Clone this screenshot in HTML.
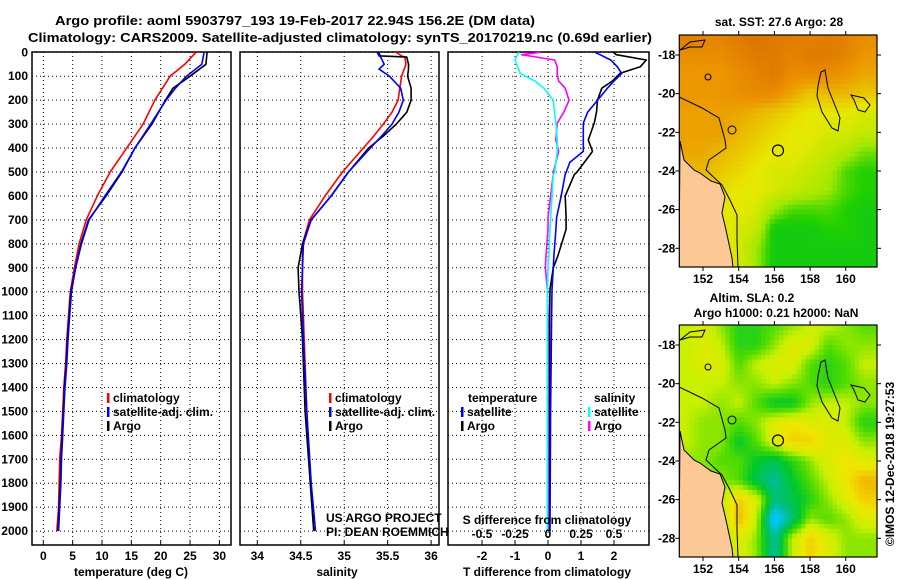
<!DOCTYPE html>
<html><head><meta charset="utf-8"><style>
html,body{margin:0;padding:0;background:#fff;}
svg{display:block;font-family:"Liberation Sans",sans-serif;}
.t{font-weight:bold;font-size:12px;}
</style></head><body>
<svg id="c" width="900" height="580" viewBox="0 0 900 580" xmlns="http://www.w3.org/2000/svg">
<text x="295" y="25" text-anchor="middle" class="t" style="font-size:13px" textLength="480" lengthAdjust="spacingAndGlyphs">Argo profile: aoml 5903797_193 19-Feb-2017 22.94S 156.2E (DM data)</text>
<text x="340" y="42" text-anchor="middle" class="t" style="font-size:13px" textLength="624" lengthAdjust="spacingAndGlyphs">Climatology: CARS2009. Satellite-adjusted climatology: synTS_20170219.nc (0.69d earlier)</text>
<g id="g"></g>
</svg>
<script>
// ---- profile data (depth in dbar) ----
const depths = [0,50,100,150,200,300,400,500,600,700,800,900,1000,1100,1200,1300,1400,1500,1600,1700,1800,1900,2000];
const tempArgo = [27.9,27.7,25.0,22.1,20.8,18.5,15.6,13.4,10.7,7.7,6.4,5.5,4.7,4.4,4.1,3.9,3.6,3.4,3.2,3.0,2.9,2.7,2.5];
const tempSat  = [27.4,27.0,24.4,22.5,20.9,18.3,15.6,13.3,10.5,7.8,6.5,5.5,4.8,4.5,4.2,4.0,3.7,3.5,3.3,3.1,3.0,2.8,2.6];
const tempClim = [26.0,24.1,21.6,20.3,19.0,17.0,14.2,11.4,9.2,7.3,6.1,5.3,4.6,4.3,4.0,3.8,3.5,3.3,3.1,2.8,2.7,2.6,2.3];
const salDepths = [0,15,20,50,70,100,150,200,250,300,350,400,500,600,700,800,900,1000,1100,1200,1500,1800,2000];
const salArgo = [35.39,35.42,35.72,35.74,35.74,35.73,35.77,35.77,35.72,35.60,35.45,35.28,35.05,34.85,34.62,34.52,34.47,34.48,34.50,34.52,34.55,34.61,34.65];
const salSat  = [35.38,35.40,35.42,35.46,35.40,35.52,35.65,35.68,35.63,35.55,35.43,35.30,35.05,34.85,34.62,34.53,34.52,34.51,34.52,34.53,34.57,34.62,34.67];
const salClim = [35.60,35.66,35.70,35.71,35.69,35.66,35.64,35.62,35.55,35.45,35.34,35.22,34.98,34.78,34.60,34.52,34.52,34.52,34.53,34.54,34.57,34.61,34.65];
const diffDepths = [0,10,32,60,88,120,150,200,250,296,366,414,460,502,510,600,690,739,850,900,990,1110,1500,2000];
const dTArgo = [1.98,2.07,2.98,2.80,2.18,1.95,1.63,1.50,1.47,1.40,1.22,1.35,1.10,0.87,0.80,0.52,0.55,0.55,0.30,0.16,0.06,0.05,0.05,0.05];
const dTSat  = [1.42,1.58,1.90,2.10,2.23,2.00,1.80,1.50,1.20,1.07,1.07,1.07,0.66,0.55,0.52,0.40,0.26,0.24,0.18,0.16,0.12,0.11,0.08,0.06];
const dSSat  = [-0.22,-0.23,-0.25,-0.23,-0.21,-0.10,-0.03,0.04,0.05,0.06,0.07,0.07,0.06,0.05,0.04,0.03,0.02,0.015,0.005,0.0,-0.005,-0.005,-0.005,-0.005];
const dSArgo = [-0.06,-0.20,0.05,0.07,0.07,0.08,0.13,0.16,0.12,0.07,0.06,0.08,0.06,0.04,0.04,0.02,0.0,0.0,-0.015,-0.02,-0.005,0.0,0.0,0.0];
// ---- ticks ----
const depthTicks = [0,100,200,300,400,500,600,700,800,900,1000,1100,1200,1300,1400,1500,1600,1700,1800,1900,2000];
const tempTicks = [0,5,10,15,20,25,30];
const salTicks = [34,34.5,35,35.5,36];
const salTickLabels = ["34","34.5","35","35.5","36"];
const dTTicks = [-2,-1,0,1,2];
const dSTicks = [-0.5,-0.25,0,0.25,0.5];
const dSTickLabels = ["-0.5","-0.25","0","0.25","0.5"];
const latTicks = [-18,-20,-22,-24,-26,-28];
const lonTicks = [152,154,156,158,160];
// ---- map grids (rows lat -17..-28, cols lon 151..161) ----
const sstGrid = [
[0.10,0.15,0.15,0.10,0.05,0.10,0.10,0.15,0.10,0.15,0.20],
[0.20,0.20,0.20,0.15,0.10,0.10,0.15,0.10,0.10,0.15,0.25],
[0.25,0.25,0.25,0.20,0.15,0.10,0.20,0.20,0.20,0.25,0.30],
[0.25,0.25,0.25,0.22,0.18,0.20,0.30,0.40,0.35,0.35,0.40],
[0.28,0.28,0.28,0.30,0.35,0.40,0.45,0.50,0.50,0.50,0.55],
[0.28,0.28,0.28,0.35,0.40,0.45,0.50,0.50,0.55,0.55,0.60],
[0.30,0.30,0.35,0.40,0.45,0.50,0.50,0.55,0.60,0.65,0.75],
[0.35,0.35,0.40,0.45,0.50,0.55,0.55,0.60,0.65,0.80,0.85],
[0.40,0.40,0.45,0.50,0.50,0.55,0.60,0.65,0.70,0.80,0.85],
[0.45,0.45,0.50,0.50,0.55,0.70,0.80,0.80,0.80,0.85,0.90],
[0.50,0.50,0.50,0.55,0.60,0.90,0.90,0.90,0.85,0.85,0.90],
[0.50,0.50,0.50,0.55,0.70,0.90,0.90,0.90,0.90,0.90,0.90]];
const slaGrid = [
[0.2,0.3,0.1,-0.1,-0.1,0,0.1,0.2,0.2,0.1,0],
[0.2,0.3,0.2,-0.1,-0.1,0.1,0.3,0.3,0,0.1,0.1],
[0.2,0.3,0.3,0,0.2,0.3,0.3,0,-0.1,0,0.2],
[0.2,0.2,0.2,0.1,0.1,0.2,0.1,0,-0.1,0,0.1],
[0.2,0.2,0.1,0.2,0,-0.2,-0.2,0.1,0.2,0.2,0.1],
[0.2,0.1,0.1,0,0.1,0.3,0.4,0.3,0.3,0.2,-0.1],
[0.2,0.1,0.1,-0.2,0,0.3,0.5,0.5,0.3,0.3,0.1],
[0.1,0.1,0,0,-0.2,-0.3,-0.1,0.1,0.3,0.4,0.3],
[0.1,0.1,0.1,0,-0.3,-0.5,-0.2,0,0.2,0.4,0.6],
[0.1,0.1,0.2,0.5,0.3,-0.4,-0.3,-0.1,0.1,0.3,0.5],
[0.1,0.1,0.1,0.6,0.2,-0.8,-0.4,0.1,0,0.1,0.3],
[0.1,0.1,0.1,0.3,0.1,-0.5,0.2,0.5,0.3,0.1,0.1]];
const argoLon = 156.2, argoLat = -22.94;

const NS="http://www.w3.org/2000/svg";
const G=document.getElementById('g');
function mk(tag,attrs,parent){const e=document.createElementNS(NS,tag);for(const k in attrs)e.setAttribute(k,attrs[k]);(parent||G).appendChild(e);return e;}
function txt(x,y,s,anchor,cls,parent){const e=mk('text',{x:x,y:y,'text-anchor':anchor||'start','class':cls||'t'},parent);e.textContent=s;return e;}

const yD = p => 52.3 + 0.2394*p;
const xT = t => 43.3 + 5.87*t;
const xS = s => 257.3 + 86.9*(s-34);
const xdT = d => 548 + 33*d;
const xdS = d => 548 + 132*d;
const PT=[32,231], PS=[240,439], PD=[448,649], PY=[52,545];

function panel(x0,x1,name,vgrid){
  const g=mk('g',{});
  
  
  depthTicks.forEach(p=>{const l=mk('line',{x1:x0,x2:x1,y1:yD(p),y2:yD(p),stroke:'#000','stroke-width':1,'stroke-dasharray':'1,3'},g);
    
    });
  vgrid.forEach(x=>{const l=mk('line',{x1:x,x2:x,y1:PY[0],y2:PY[1],stroke:'#000','stroke-width':1,'stroke-dasharray':'1,3'},g);
    
    
    mk('line',{x1:x,x2:x,y1:PY[1],y2:PY[1]-4,stroke:'#000'},g);});
  const r=mk('rect',{x:x0,y:PY[0],width:x1-x0,height:PY[1]-PY[0],fill:'none',stroke:'#000','stroke-width':1.5},g);
  
  
  return g;
}
const g1=panel(PT[0],PT[1],'temperature-panel',tempTicks.map(xT));
const g2=panel(PS[0],PS[1],'salinity-panel',salTicks.map(xS));
const g3=panel(PD[0],PD[1],'difference-panel',dTTicks.map(xdT));

function line(xs,ps,fx,col,name,parent,w){
  const pts=xs.map((v,i)=>fx(v).toFixed(1)+','+yD(ps[i]).toFixed(1)).join(' ');
  const l=mk('polyline',{points:pts,fill:'none',stroke:col,'stroke-width':w||1.6,'stroke-linejoin':'round'},parent);
  
  
}
line(tempClim,depths,xT,'#f00','temp-climatology-line',g1);
line(tempArgo,depths,xT,'#000','temp-argo-line',g1);
line(tempSat,depths,xT,'#00f','temp-satellite-line',g1);
line(salClim,salDepths,xS,'#f00','sal-climatology-line',g2);
line(salArgo,salDepths,xS,'#000','sal-argo-line',g2);
line(salSat,salDepths,xS,'#00f','sal-satellite-line',g2);
line(dSArgo,diffDepths,xdS,'#f0f','dsal-argo-line',g3);
line(dSSat,diffDepths,xdS,'#0ff','dsal-satellite-line',g3);
line(dTArgo,diffDepths,xdT,'#000','dtemp-argo-line',g3);
line(dTSat,diffDepths,xdT,'#00f','dtemp-satellite-line',g3);

depthTicks.forEach(p=>{const t=txt(28,yD(p)+4,String(p),'end');
  
  });
tempTicks.forEach(v=>{const t=txt(xT(v),560,String(v),'middle');
  
  });
salTicks.forEach((v,i)=>{const t=txt(xS(v),560,salTickLabels[i],'middle');
  
  });
dTTicks.forEach(v=>{const t=txt(xdT(v),560,String(v),'middle');
  
  });
dSTicks.forEach((v,i)=>{const t=txt(xdS(v),538,dSTickLabels[i],'middle');
  
  });
let a=txt(131,576,'temperature (deg C)','middle');
a=txt(337,576,'salinity','middle');
a=txt(547,576,'T difference from climatology','middle');
a=txt(547,524,'S difference from climatology','middle');
a=txt(326,522,'US ARGO PROJECT','start','');a.setAttribute('font-size','12');
a=txt(326,536,'PI: DEAN ROEMMICH','start','');a.setAttribute('font-size','12');

function legend(x,y,col,label,name){
  const b=mk('rect',{x:x,y:y-9,width:2.5,height:10,fill:col});
  
  
  const t=txt(x+6,y,label);
  
  
}
legend(107,402,'#f00','climatology','legend-climatology');
legend(107,416,'#00f','satellite-adj. clim.','legend-satellite-adj');
legend(107,430,'#000','Argo','legend-argo');
legend(329,402,'#f00','climatology','legend-sal-climatology');
legend(329,416,'#00f','satellite-adj. clim.','legend-sal-satellite-adj');
legend(329,430,'#000','Argo','legend-sal-argo');
a=txt(468,402,'temperature');
legend(461,416,'#00f','satellite','legend-dtemp-satellite');
legend(461,430,'#000','Argo','legend-dtemp-argo');
a=txt(594,402,'salinity');
legend(588,416,'#0ff','satellite','legend-dsal-satellite');
legend(588,430,'#f0f','Argo','legend-dsal-argo');

// ---- maps ----
const MX=[679.3,877], MLON=[150.67,161.75];
const mLon = l => MX[0]+(l-MLON[0])*(MX[1]-MX[0])/(MLON[1]-MLON[0]);
const mLat = (l,off) => off+55+(-18-l)*19.33;
function lerp(c1,c2,t){return c1.map((v,i)=>Math.round(v+(c2[i]-v)*t));}
function ramp(stops,v){
  if(v<=stops[0][0])return stops[0][1];
  for(let i=1;i<stops.length;i++){if(v<=stops[i][0]){const t=(v-stops[i-1][0])/(stops[i][0]-stops[i-1][0]);return lerp(stops[i-1][1],stops[i][1],t);}}
  return stops[stops.length-1][1];
}
const sstStops=[[0,[216,104,0]],[0.25,[236,150,0]],[0.5,[232,232,0]],[0.7,[160,232,0]],[0.85,[32,208,0]],[1,[0,192,48]]];
const slaStops=[[-1,[0,80,255]],[-0.7,[0,200,255]],[-0.45,[0,190,140]],[-0.2,[0,200,40]],[0,[80,220,0]],[0.2,[200,240,0]],[0.4,[240,230,0]],[0.7,[240,160,0]],[1,[230,100,0]]];
function sample(grid,lon,lat){
  // bilinear interpolation between grid cell centres (rendering only)
  let c=lon-151, r=-17-lat;
  c=Math.max(0,Math.min(10,c)); r=Math.max(0,Math.min(11,r));
  const c0=Math.min(9,Math.floor(c)), r0=Math.min(10,Math.floor(r));
  const fc=c-c0, fr=r-r0;
  const v00=grid[r0][c0],v01=grid[r0][c0+1],v10=grid[r0+1][c0],v11=grid[r0+1][c0+1];
  return (v00*(1-fc)+v01*fc)*(1-fr)+(v10*(1-fc)+v11*fc)*fr;
}
function map(off,grid,stops,name){
  const g=mk('g',{});
  
  
  const clip=mk('clipPath',{id:'cl'+off},g);
  mk('rect',{x:MX[0],y:off+35,width:MX[1]-MX[0],height:232},clip);
  const inner=mk('g',{'clip-path':'url(#cl'+off+')'},g);
  const step=0.25;
  for(let lat=-16.75;lat>-29.25;lat-=step){
    for(let lon=150.5;lon<161.9;lon+=step){
      const v=sample(grid,lon+step/2,lat-step/2);
      const col=ramp(stops,v);
      const x0=mLon(lon), y0=mLat(lat,off);
      const cell=mk('rect',{x:x0.toFixed(1),y:y0.toFixed(1),width:(mLon(lon+step)-x0+0.6).toFixed(1),height:(step*19.33+0.6).toFixed(1),fill:'rgb('+col.join(',')+')'},inner);
      
      
    }
  }
  const land=[[680,141],[684,160],[694,170],[700,173],[711,181],[720,184],[725,197],[722,213],[726,230],[729,244],[732,258],[733,268],[679,268]];
  const lp=mk('polygon',{points:land.map(p=>p[0]+','+(p[1]+off)).join(' '),fill:'#fcc896',stroke:'#000','stroke-width':1},inner);
  
  
  const cont=[[679,97],[702,108],[719,118],[725,140],[726,148],[709,160],[706,170],[722,185],[730,200],[737,215],[737,240],[738,268]];
  mk('polyline',{points:cont.map(p=>p[0]+','+(p[1]+off)).join(' '),fill:'none',stroke:'#000','stroke-width':1},inner);
  const reef=[[818,86],[821,72],[825,70],[828,88],[834,103],[840,118],[838,131],[832,128],[822,112],[817,96]];
  mk('polygon',{points:reef.map(p=>p[0]+','+(p[1]+off)).join(' '),fill:'none',stroke:'#000','stroke-width':1},inner);
  const reef2=[[851,95],[864,98],[870,105],[865,112],[858,110],[854,100]];
  mk('polygon',{points:reef2.map(p=>p[0]+','+(p[1]+off)).join(' '),fill:'none',stroke:'#000','stroke-width':1},inner);
  mk('polyline',{points:[[680,50],[690,42],[705,40],[702,47],[690,47],[680,50]].map(p=>p[0]+','+(p[1]+off)).join(' '),fill:'none',stroke:'#000'},inner);
  mk('ellipse',{cx:708,cy:77+off,rx:3,ry:3,fill:'none',stroke:'#000'},inner);
  mk('ellipse',{cx:732,cy:130+off,rx:4,ry:4,fill:'none',stroke:'#000'},inner);
  const ac=mk('circle',{cx:mLon(argoLon),cy:mLat(argoLat,off),r:5.5,fill:'none',stroke:'#000','stroke-width':1.2},inner);
  
  
  mk('rect',{x:MX[0],y:off+35,width:MX[1]-MX[0],height:232,fill:'none',stroke:'#000','stroke-width':1.2},g);
  latTicks.forEach(l=>{const y=mLat(l,off);
    mk('line',{x1:MX[1],x2:MX[1]+4,y1:y,y2:y,stroke:'#000'},g);
    mk('line',{x1:MX[0]-4,x2:MX[0],y1:y,y2:y,stroke:'#000'},g);
    const t=txt(MX[0]-4,y+4,String(l),'end');
    
    });
  lonTicks.forEach(l=>{const x=mLon(l);
    mk('line',{x1:x,x2:x,y1:off+31,y2:off+35,stroke:'#000'},g);
    mk('line',{x1:x,x2:x,y1:off+267,y2:off+271,stroke:'#000'},g);
    const t=txt(x,off+283,String(l),'middle');
    
    });
}
map(0,sstGrid,sstStops,'sst-map');
map(290,slaGrid,slaStops,'sla-map');
a=txt(779,26,'sat. SST: 27.6 Argo: 28','middle');
a=txt(752,302,'Altim. SLA: 0.2','middle');
a=txt(776,317,'Argo h1000: 0.21 h2000: NaN','middle');
a=txt(0,0,'©IMOS 12-Dec-2018 19:27:53','middle','');
a.setAttribute('font-size','12');
a.setAttribute('transform','translate(894,464) rotate(-90)');


</script>
</body></html>
